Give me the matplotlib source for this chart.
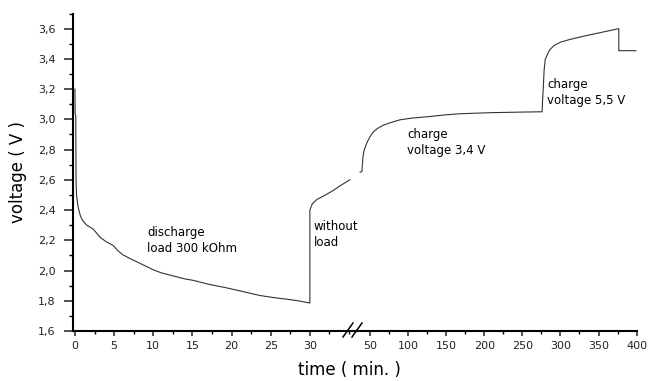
#Voltage vs time curve with a broken time axis (discharge, rest, charge)
import matplotlib.pyplot as plt
from matplotlib.lines import Line2D
from matplotlib.ticker import MultipleLocator, FuncFormatter

plt.rcParams['font.family'] = ['DejaVu Sans']

#Discharge and rest part, minutes 0-35
t_short = [0, 0.02, 0.1, 0.14, 0.2, 0.4, 0.7, 1.0, 1.5, 2.0, 2.4, 2.8, 3.2, 4.0, 4.9, 5.5, 6.1,
           7.0, 8.0, 9.0, 10.0, 11.0, 12.5, 14.0, 15.1, 17.0, 19.4, 21.5, 23.6, 25.5, 27.1, 28.5, 30.0,
           30.0, 30.3, 30.9, 32.0, 33.0, 34.0, 35.1]
v_short = [3.20, 3.04, 3.02, 2.60, 2.50, 2.42, 2.36, 2.33, 2.30, 2.285, 2.27, 2.245, 2.22, 2.19, 2.165, 2.13, 2.105,
           2.08, 2.055, 2.03, 2.005, 1.985, 1.965, 1.945, 1.935, 1.91, 1.885, 1.86, 1.835, 1.82, 1.81, 1.80, 1.785,
           2.40, 2.44, 2.47, 2.50, 2.53, 2.565, 2.60]

#Charge part, minutes 37-400
t_long = [37, 39.5, 40.0, 40.8, 42, 44, 46, 50, 54, 60, 67, 75, 89.5, 105, 125, 150, 168, 208, 250, 276,
          276.5, 277.6, 278.5, 280, 283, 286, 292, 300, 310, 322, 335, 349, 363, 376.6, 376.6, 399]
v_long = [2.65, 2.655, 2.70, 2.75, 2.79, 2.82, 2.845, 2.885, 2.915, 2.94, 2.96, 2.975, 2.997, 3.008, 3.017,
          3.03, 3.037, 3.044, 3.048, 3.05,
          3.12, 3.22, 3.32, 3.395, 3.43, 3.46, 3.49, 3.51, 3.525, 3.54, 3.555, 3.57, 3.585, 3.60, 3.454, 3.454]

ticks_short = [0, 5, 10, 15, 20, 25, 30]
ticks_long = [50, 100, 150, 200, 250, 300, 350, 400]

W, H = 650, 381
fig = plt.figure(figsize=(6.5, 3.81), dpi=100)

bottom = 1 - 331 / H
height = (331 - 13.5) / H
ax1 = fig.add_axes([73 / W, bottom, (352 - 73) / W, height])
ax2 = fig.add_axes([352 / W, bottom, (637 - 352) / W, height])

comma = FuncFormatter(lambda v, p: ('%.1f' % v).replace('.', ','))

for ax in (ax1, ax2):
    ax.set_facecolor('none')
    ax.spines['top'].set_visible(False)
    ax.spines['right'].set_visible(False)
    ax.spines['bottom'].set_linewidth(1.5)
    ax.set_ylim(1.6, 3.7)
    ax.tick_params(axis='x', which='major', direction='out', length=3.8, width=1.1,
                   labelsize=8, pad=3.5, colors='#222222')
    ax.tick_params(axis='x', which='minor', direction='out', length=2.5, width=1.0)

ax1.spines['left'].set_linewidth(1.5)
ax2.spines['left'].set_visible(False)
ax2.tick_params(axis='y', which='both', left=False, labelleft=False)

ax1.plot(t_short, v_short, color='#333333', lw=0.8)
ax2.plot(t_long, v_long, color='#333333', lw=0.8)

ax1.set_xlim(-0.25, 35.38)
ax1.set_xticks(ticks_short)
ax1.xaxis.set_minor_locator(MultipleLocator(2.5))
ax1.yaxis.set_major_locator(MultipleLocator(0.2))
ax1.yaxis.set_minor_locator(MultipleLocator(0.1))
ax1.yaxis.set_major_formatter(comma)
ax1.tick_params(axis='y', which='major', direction='out', length=6.5, width=1.1,
                labelsize=8, pad=6, colors='#222222')
ax1.tick_params(axis='y', which='minor', direction='out', length=3.2, width=1.0)

ax2.set_xlim(26.4, 400.5)
ax2.set_xticks(ticks_long)
ax2.set_xticks([75, 125, 175, 225, 275, 325, 375], minor=True)

ax1.set_ylabel('voltage ( V )', fontsize=12, labelpad=8)
fig.text(349 / W, 1 - 370 / H, 'time ( min. )', fontsize=12, ha='center', va='center')

#Annotations
ax1.text(9.2, 2.196, 'discharge\nload 300 kOhm', fontsize=8.5, va='center', linespacing=1.3)
ax1.text(30.5, 2.236, 'without\nload', fontsize=8.5, va='center', linespacing=1.3)
ax2.text(98.7, 2.845, 'charge\nvoltage 3,4 V', fontsize=8.5, va='center', linespacing=1.3)
ax2.text(283, 3.18, 'charge\nvoltage 5,5 V', fontsize=8.5, va='center', linespacing=1.3)

#Break marks on the time axis
for x0 in (343, 352):
    fig.add_artist(Line2D([x0 / W, (x0 + 10) / W], [1 - 337 / H, 1 - 323 / H],
                          color='black', lw=1.1, transform=fig.transFigure))

fig.savefig('out.png', dpi=100)
